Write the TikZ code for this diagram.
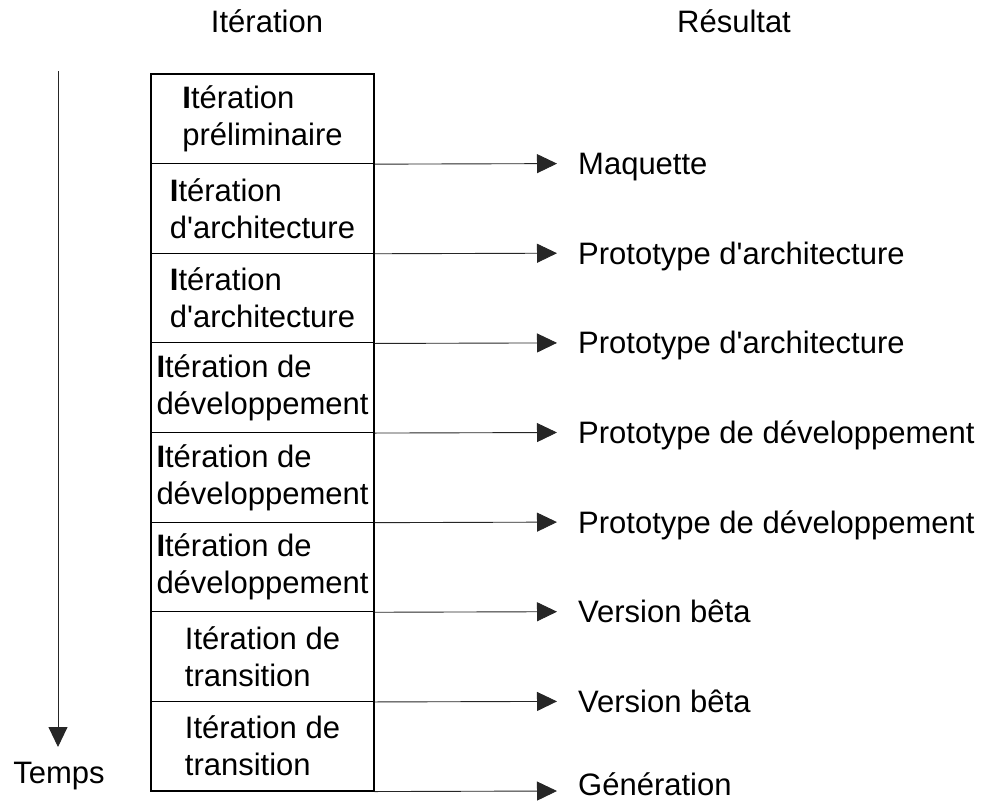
\documentclass[tikz,border=0pt]{standalone}
\usepackage{fontspec}
\setmainfont{Liberation Sans}
\usetikzlibrary{arrows.meta}
\newcommand{\apos}{\textquotesingle}
\begin{document}
\begin{tikzpicture}[x=1pt,y=-1pt,
  every node/.style={font=\fontsize{31}{37}\selectfont},
  phase/.style={draw=black,line width=1.1pt,minimum width=223pt,minimum height=89.6pt,
    inner sep=0pt,align=left},
  outcome/.style={anchor=west,inner sep=0pt,text height=22pt,text depth=0pt},
  heading/.style={anchor=base},
  flow/.style={draw=black!85,line width=0.9pt,-{Triangle[length=20pt,width=19pt]}}]
  \useasboundingbox (0,0) rectangle (1001,803);

  % column headings
  \node[heading] (hit) at (267,32) {Itération};
  \node[heading] (hres) at (734,32) {Résultat};

  % stacked iterations
  \node[phase] (s1) at (262.5,118.8) {{\bfseries I}tération\\préliminaire};
  \node[phase] (s2) at (262.5,208.4) {{\bfseries I}tération\\d\apos architecture};
  \node[phase] (s3) at (262.5,298.1) {{\bfseries I}tération\\d\apos architecture};
  \node[phase] (s4) at (262.5,387.7) {{\bfseries I}tération de\\développement};
  \node[phase] (s5) at (262.5,477.3) {{\bfseries I}tération de\\développement};
  \node[phase] (s6) at (262.5,566.9) {{\bfseries I}tération de\\développement};
  \node[phase] (s7) at (262.5,656.6) {Itération de\\transition};
  \node[phase] (s8) at (262.5,746.2) {Itération de\\transition};

  % deliverables
  \node[outcome] (r1) at (578,163.6) {Maquette};
  \node[outcome] (r2) at (578,253.2) {Prototype d\apos architecture};
  \node[outcome] (r3) at (578,342.9) {Prototype d\apos architecture};
  \node[outcome] (r4) at (578,432.5) {Prototype de développement};
  \node[outcome] (r5) at (578,522.1) {Prototype de développement};
  \node[outcome] (r6) at (578,611.7) {Version bêta};
  \node[outcome] (r7) at (578,701.4) {Version bêta};
  \node[outcome] (r8) at (578,784) {Génération};

  \foreach \i in {1,...,7}
    \draw[flow] (s\i.south east) -- ([xshift=-21pt]r\i.west);
  \draw[flow] (s8.south east) -- ([xshift=-21pt,yshift=-7pt]r8.west);

  % time axis
  \node[heading] (temps) at (59,783) {Temps};
  \coordinate (tstart) at (58,71);
  \coordinate (tend) at (58,747);
  \draw[flow] (tstart) -- (tend);
\end{tikzpicture}
\end{document}
